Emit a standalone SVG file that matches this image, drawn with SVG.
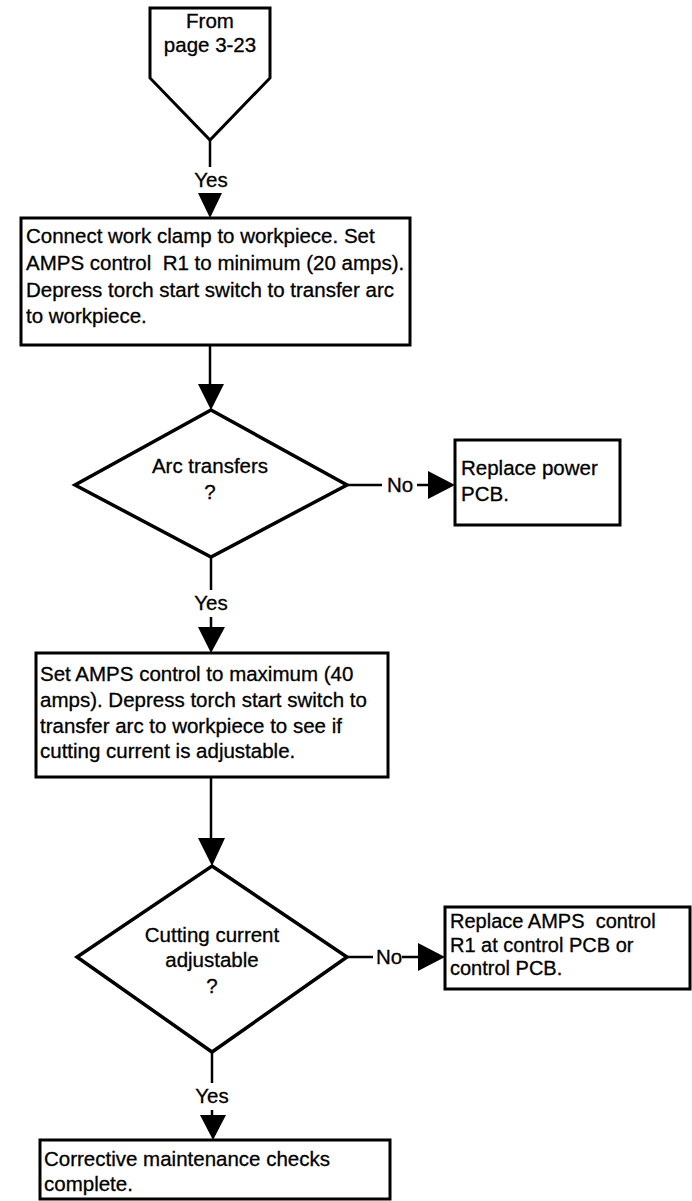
<svg xmlns="http://www.w3.org/2000/svg" width="692" height="1201" viewBox="0 0 692 1201">
  <style>
    .shape { fill: #ffffff; stroke: #000000; stroke-width: 3; stroke-linejoin: miter; }
    .diamond { stroke-width: 3.5; }
    .wire { fill: none; stroke: #000000; stroke-width: 2.5; }
    .head { fill: #000000; stroke: none; }
    text { font-family: "Liberation Sans", Arial, Helvetica, sans-serif; font-size: 20.5px; fill: #000000; stroke: #000000; stroke-width: 0.3; white-space: pre; }
    .mid { text-anchor: middle; }
    .small { font-size: 20px; }
  </style>
  <rect width="692" height="1201" fill="#ffffff"/>

  <!-- off-page entry connector -->
  <g id="from-page">
    <polygon class="shape" points="150,8 270,8 270,78 210,140 150,78"/>
    <text class="mid" x="210" y="28">From</text>
    <text class="mid" x="210" y="52">page 3-23</text>
  </g>

  <g id="connect-clamp">
    <rect class="shape" x="21" y="218" width="389" height="127"/>
    <text x="26" y="243">Connect work clamp to workpiece. Set</text>
    <text x="26" y="270" xml:space="preserve">AMPS control  R1 to minimum (20 amps).</text>
    <text x="26" y="297">Depress torch start switch to transfer arc</text>
    <text x="26" y="323">to workpiece.</text>
  </g>

  <g id="arc-transfers">
    <polygon class="shape diamond" points="211,410 347,485 211,557 75,485"/>
    <text class="mid" x="210" y="473">Arc transfers</text>
    <text class="mid" x="210" y="499">?</text>
  </g>

  <g id="replace-power">
    <rect class="shape" x="455" y="440" width="165" height="85"/>
    <text x="461" y="475">Replace power</text>
    <text x="461" y="501">PCB.</text>
  </g>

  <g id="set-max">
    <rect class="shape" x="36" y="653" width="352" height="124"/>
    <text x="40" y="681">Set AMPS control to maximum (40</text>
    <text x="40" y="707">amps). Depress torch start switch to</text>
    <text x="40" y="733">transfer arc to workpiece to see if</text>
    <text x="40" y="758">cutting current is adjustable.</text>
  </g>

  <g id="current-adjustable">
    <polygon class="shape diamond" points="212,866 347,957 212,1052 77,957"/>
    <text class="mid" x="212" y="942">Cutting current</text>
    <text class="mid" x="212" y="967">adjustable</text>
    <text class="mid" x="212" y="993">?</text>
  </g>

  <g id="replace-amps">
    <rect class="shape" x="445" y="907" width="245" height="82"/>
    <text class="small" x="450" y="928" xml:space="preserve">Replace AMPS  control</text>
    <text class="small" x="450" y="952">R1 at control PCB or</text>
    <text class="small" x="450" y="975">control PCB.</text>
  </g>

  <g id="checks-complete">
    <rect class="shape" x="40" y="1140" width="350" height="59"/>
    <text x="44" y="1166">Corrective maintenance checks</text>
    <text x="44" y="1191">complete.</text>
  </g>

  <g id="connectors">
    <!-- entry to first box -->
    <line class="wire" x1="210" y1="140" x2="210" y2="167"/>
    <text class="mid" x="211" y="187">Yes</text>
    <polygon class="head" points="198,193 222,193 210,218"/>

    <!-- first box to arc check -->
    <line class="wire" x1="210" y1="345" x2="210" y2="386"/>
    <polygon class="head" points="198,384 224,384 211,410"/>

    <!-- arc check: No -->
    <line class="wire" x1="347" y1="485" x2="382" y2="485"/>
    <text x="387" y="492">No</text>
    <line class="wire" x1="417" y1="485" x2="430" y2="485"/>
    <polygon class="head" points="428,471 428,499 455,485"/>

    <!-- arc check: Yes -->
    <line class="wire" x1="211" y1="557" x2="211" y2="590"/>
    <text class="mid" x="211" y="610">Yes</text>
    <line class="wire" x1="211" y1="617" x2="211" y2="630"/>
    <polygon class="head" points="198,627 225,627 211,653"/>

    <!-- max setting to current check -->
    <line class="wire" x1="211" y1="777" x2="211" y2="840"/>
    <polygon class="head" points="198,838 225,838 212,866"/>

    <!-- current check: No -->
    <line class="wire" x1="347" y1="957" x2="373" y2="957"/>
    <text x="376" y="964">No</text>
    <line class="wire" x1="402" y1="957" x2="420" y2="957"/>
    <polygon class="head" points="418,943 418,971 445,957"/>

    <!-- current check: Yes -->
    <line class="wire" x1="212" y1="1052" x2="212" y2="1083"/>
    <text class="mid" x="212" y="1103">Yes</text>
    <line class="wire" x1="212" y1="1110" x2="212" y2="1118"/>
    <polygon class="head" points="200,1115 226,1115 213,1140"/>
  </g>
</svg>
